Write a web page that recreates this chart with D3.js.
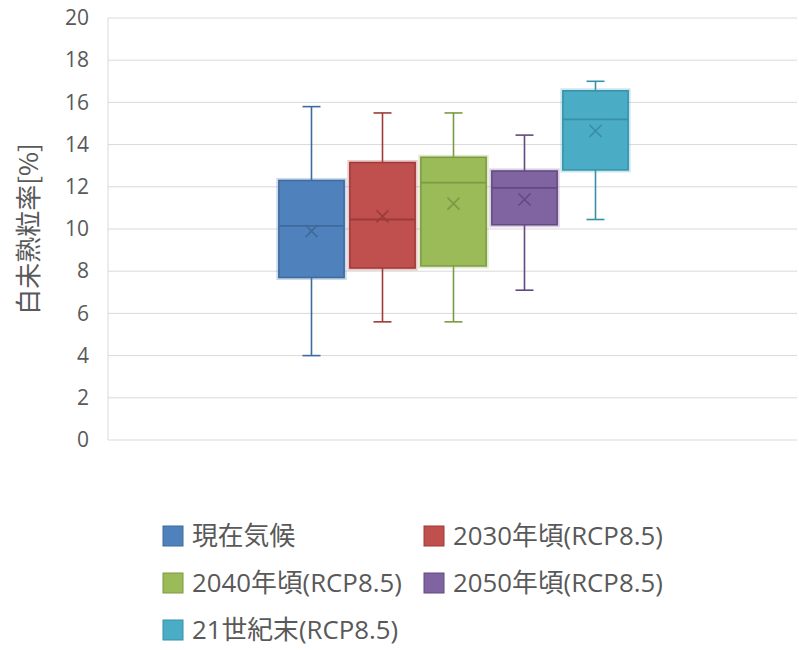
<!DOCTYPE html>
<html>
<head>
<meta charset="utf-8">
<script src="https://d3js.org/d3.v7.min.js"></script>
<style>
  body { margin: 0; background: #fff; }
  text { font-family: "Open Sans", "Noto Sans CJK JP", sans-serif; fill: #595959; }
</style>
</head>
<body>
<svg width="799" height="650"></svg>
<script>
// series (one category, five boxes)
const seriesNames = ["現在気候", "2030年頃(RCP8.5)", "2040年頃(RCP8.5)", "2050年頃(RCP8.5)", "21世紀末(RCP8.5)"];
const seriesColors = ["#4F81BD", "#C0504D", "#9BBB59", "#8064A2", "#4BACC6"];
const strokeColors = ["#3f6a9c", "#9c3b38", "#7b9a43", "#62497f", "#3790a8"];
const whiskerLow  = [4.0, 5.6, 5.6, 7.1, 10.45];
const q1Values    = [7.7, 8.15, 8.25, 10.2, 12.8];
const medians     = [10.15, 10.45, 12.2, 11.95, 15.2];
const q3Values    = [12.3, 13.15, 13.4, 12.75, 16.55];
const whiskerHigh = [15.8, 15.5, 15.5, 14.45, 17.0];
const means       = [9.9, 10.6, 11.2, 11.4, 14.65];
const yTicks = [0, 2, 4, 6, 8, 10, 12, 14, 16, 18, 20];

const svg = d3.select("svg");
const plot = { left: 108, right: 797, top: 18, bottom: 440 };

const y = d3.scaleLinear().domain([0, 20]).range([plot.bottom, plot.top]);
// group occupies the middle of the single category
const x = d3.scaleBand().domain(seriesNames).range([276, 631]).paddingInner(0.08).paddingOuter(0.04);

// gridlines
svg.append("g").selectAll("line").data(yTicks).enter().append("line")
  .attr("x1", plot.left).attr("x2", plot.right)
  .attr("y1", d => y(d)).attr("y2", d => y(d))
  .attr("stroke", "#d9d9d9").attr("stroke-width", 1);
svg.append("line").attr("x1", plot.left).attr("x2", plot.left)
  .attr("y1", plot.top).attr("y2", plot.bottom).attr("stroke", "#d9d9d9");

// y axis labels
const yAxis = d3.axisLeft(y).tickValues(yTicks).tickSize(0).tickPadding(19);
const ya = svg.append("g").attr("transform", `translate(${plot.left},0)`).call(yAxis);
ya.select(".domain").remove();
ya.selectAll("text").style("font-size", "21px").style("fill", "#595959")
  .style("font-family", "'Open Sans', sans-serif");

svg.append("text")
  .attr("transform", `translate(26,${y(10)}) rotate(-90)`)
  .attr("text-anchor", "middle")
  .attr("dominant-baseline", "central")
  .style("font-size", "26px")
  .style("font-family", "'Noto Sans CJK JP', sans-serif")
  .text("白未熟粒率[%]");

// boxes
const data = seriesNames.map((n, i) => ({
  name: n, color: seriesColors[i], stroke: strokeColors[i],
  lo: whiskerLow[i], q1: q1Values[i], med: medians[i], q3: q3Values[i], hi: whiskerHigh[i], mean: means[i]
}));

const g = svg.append("g").selectAll("g").data(data).enter().append("g")
  .attr("transform", d => `translate(${x(d.name)},0)`);
const bw = x.bandwidth();
const cap = 18;

g.append("line").attr("x1", bw / 2).attr("x2", bw / 2)
  .attr("y1", d => y(d.hi)).attr("y2", d => y(d.lo))
  .attr("stroke", d => d.stroke).attr("stroke-width", 1.6);
g.append("line").attr("x1", bw / 2 - cap / 2).attr("x2", bw / 2 + cap / 2)
  .attr("y1", d => y(d.hi)).attr("y2", d => y(d.hi))
  .attr("stroke", d => d.stroke).attr("stroke-width", 1.6);
g.append("line").attr("x1", bw / 2 - cap / 2).attr("x2", bw / 2 + cap / 2)
  .attr("y1", d => y(d.lo)).attr("y2", d => y(d.lo))
  .attr("stroke", d => d.stroke).attr("stroke-width", 1.6);

// faint halo round each box
g.append("rect")
  .attr("x", 0).attr("width", bw)
  .attr("y", d => y(d.q3)).attr("height", d => y(d.q1) - y(d.q3))
  .attr("fill", "none").attr("stroke", d => d.color).attr("stroke-opacity", 0.3).attr("stroke-width", 5);
g.append("rect")
  .attr("x", 0).attr("width", bw)
  .attr("y", d => y(d.q3)).attr("height", d => y(d.q1) - y(d.q3))
  .attr("fill", d => d.color).attr("stroke", d => d.stroke).attr("stroke-width", 1.5);
g.append("line").attr("x1", 0).attr("x2", bw)
  .attr("y1", d => y(d.med)).attr("y2", d => y(d.med))
  .attr("stroke", d => d.stroke).attr("stroke-width", 1.8);

// mean markers (x)
const m = 6;
g.append("path")
  .attr("d", d => `M${bw / 2 - m},${y(d.mean) - m}L${bw / 2 + m},${y(d.mean) + m}M${bw / 2 - m},${y(d.mean) + m}L${bw / 2 + m},${y(d.mean) - m}`)
  .attr("stroke", d => d.stroke).attr("stroke-width", 1.6).attr("fill", "none");

// legend
const legendPos = [[163, 536], [424, 536], [163, 583], [424, 583], [163, 630]];
const lg = svg.append("g").selectAll("g").data(data).enter().append("g")
  .attr("transform", (d, i) => `translate(${legendPos[i][0]},${legendPos[i][1]})`);
lg.append("rect").attr("x", 0).attr("y", -10).attr("width", 20).attr("height", 20)
  .attr("fill", d => d.color).attr("stroke", d => d.stroke).attr("stroke-width", 1);
lg.append("text").attr("x", 29).attr("y", 0).attr("dy", "0.35em")
  .style("font-size", "25.8px")
  .style("font-family", "'Open Sans', 'Noto Sans CJK JP', sans-serif")
  .text(d => d.name);
</script>
</body>
</html>
